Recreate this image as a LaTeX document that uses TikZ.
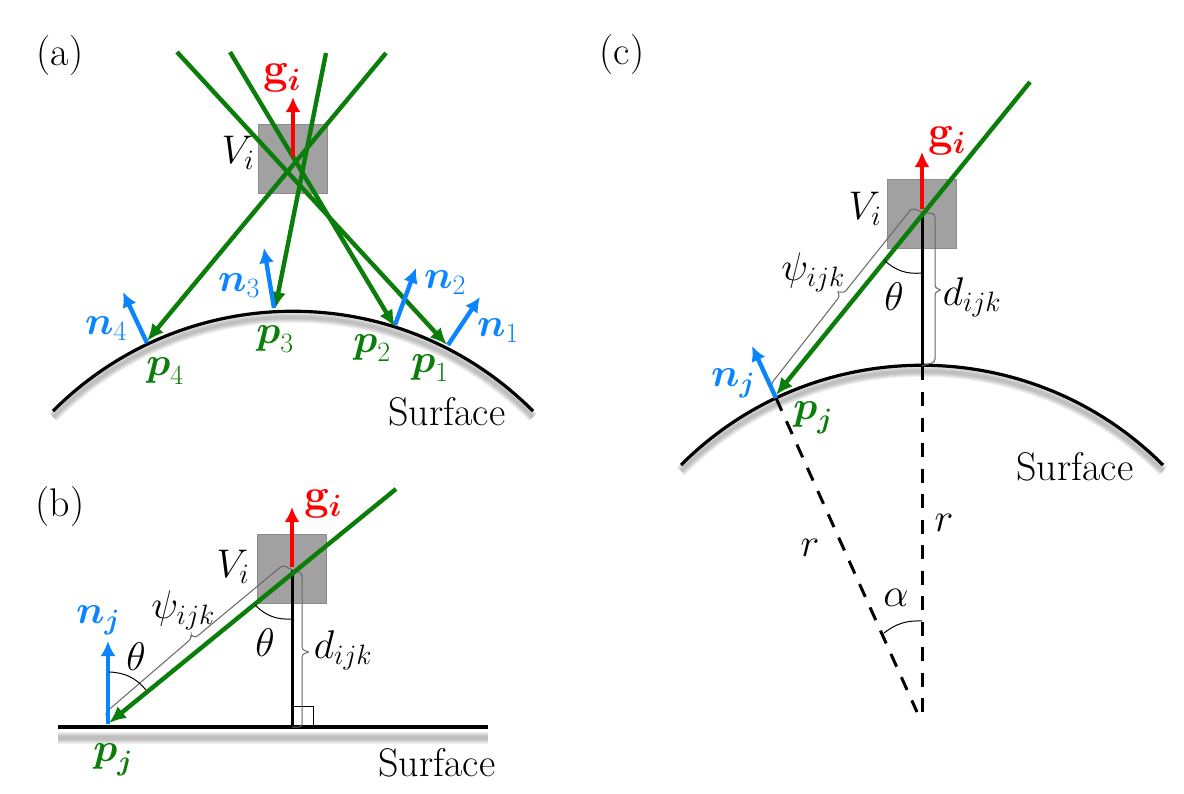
\RequirePackage{fix-cm}
\documentclass[tikz,border=0pt]{standalone}
\usepackage{amsmath}
\usetikzlibrary{arrows.meta}

\definecolor{raygreen}{RGB}{10,125,10}
\definecolor{normalblue}{RGB}{10,132,255}
\tikzset{
    greenline/.style={draw=raygreen,line width=4.4pt,-{Latex[length=17pt,width=15pt]}},
    normal/.style={draw=normalblue,line width=4.4pt,-{Latex[length=15pt,width=15pt]}},
    gradient/.style={draw=red,line width=4.4pt,-{Latex[length=15pt,width=15pt]}},
    voxel/.style={draw=black!45,fill=black!37,line width=1pt},
    surface/.style={line width=3.2pt},
    gap/.style={draw=black!60,line width=1pt,rounded corners=3pt},
    lab/.style={inner sep=0pt,font=\fontsize{40}{44}\selectfont},
    glab/.style={lab,text=raygreen},
    nlab/.style={lab,text=normalblue},
    rlab/.style={lab,text=red,font=\fontsize{44}{48}\selectfont}
}

\begin{document}
\begin{tikzpicture}[x=1pt,y=-1pt]
    \useasboundingbox (0,0) rectangle (1184,793);

    % (a)
    \node[lab] (labela) at (60,56) {(a)};
    \foreach \w in {11,9,7,5,3}
        \draw[black!60,opacity=.1,line width=\w pt,shift={(0,6)}] (53,411) .. controls (186,278) and (400,278) .. (533,411);
    \draw[surface] (53,411) .. controls (186,278) and (400,278) .. (533,411);
    \draw[voxel] (258,124) rectangle (327,193);
    \coordinate (centera) at (293,157);
    \coordinate (gtipa) at (293,97);
    \coordinate (r1) at (177,52);
    \coordinate (r2) at (230,52);
    \coordinate (r3) at (326,53);
    \coordinate (r4) at (386,53);
    \coordinate (p1) at (447,345);
    \coordinate (p2) at (395,327);
    \coordinate (p3) at (275,309);
    \coordinate (p4) at (147,341);
    \foreach \a/\b in {r1/p1,r2/p2,r3/p3,r4/p4}
        \draw[greenline] (\a) -- (\b);
    \draw[gradient] (centera) -- (gtipa);
    \draw[normal] (448,345) -- (480,297);
    \draw[normal] (395,325) -- (416,268);
    \draw[normal] (274,308) -- (264,248);
    \draw[normal] (147,343) -- (123,292);
    \node[rlab] (gia) at (282,78) {$\mathbf{g}_{\boldsymbol{i}}$};
    \node[lab] (via) at (238,153) {$V_i$};
    \node[nlab] (n1) at (498,331) {$\boldsymbol{n}_1$};
    \node[nlab] (n2) at (445,283) {$\boldsymbol{n}_2$};
    \node[nlab] (n3) at (239,286) {$\boldsymbol{n}_3$};
    \node[nlab] (n4) at (106,329) {$\boldsymbol{n}_4$};
    \node[glab] (lp1) at (430,368) {$\boldsymbol{p}_1$};
    \node[glab] (lp2) at (372,348) {$\boldsymbol{p}_2$};
    \node[glab] (lp3) at (275,339) {$\boldsymbol{p}_3$};
    \node[glab] (lp4) at (165,371) {$\boldsymbol{p}_4$};
    \node[lab] (surfa) at (447,412) {Surface};

    % (b)
    \node[lab] (labelb) at (60,507) {(b)};
    \foreach \w in {12,10,8,6,4}
        \draw[black!60,opacity=.1,line width=\w pt] (58,738) -- (488,738);
    \draw[surface] (58,727) -- (488,727);
    \draw[voxel] (257,534) rectangle (326,603);
    \draw[black,line width=1pt] (292,706) rectangle (313,727);
    \coordinate (centerb) at (292,570);
    \coordinate (gtipb) at (292,507);
    \coordinate (topb) at (396,489);
    \coordinate (pjb) at (109,723);
    \coordinate (footb) at (292,727);
    \draw[black,line width=3pt] (centerb) -- (footb);
    \draw[gap] (pjb) -- (105,713) -- (191,639) -- (191,634) -- (195,638) -- (283,565) -- (centerb);
    \draw[gap] (centerb) -- (302,573) -- (302,650) -- (310,652) -- (302,654) -- (302,727) -- (footb);
    \draw[gradient] (292,567) -- (gtipb);
    \draw[greenline] (topb) -- (pjb);
    \draw[normal] (108,724) -- (108,641);
    \draw[line width=1pt] (255,605) to[bend right=24] (292,619);
    \draw[line width=1pt] (109,672) to[bend left=24] (146,690);
    \node[rlab] (gib) at (323,504) {$\mathbf{g}_{\boldsymbol{i}}$};
    \node[lab] (vib) at (233,567) {$V_i$};
    \node[nlab] (njb) at (98,620) {$\boldsymbol{n}_{\boldsymbol{j}}$};
    \node[glab] (lpjb) at (113,760) {$\boldsymbol{p}_{\boldsymbol{j}}$};
    \node[lab] (psib) at (183,610) {$\psi_{ijk}$};
    \node[lab] (thetaa) at (136,657) {$\theta$};
    \node[lab] (thetab) at (265,643) {$\theta$};
    \node[lab] (db) at (343,650) {$d_{ijk}$};
    \node[lab] (surfb) at (437,763) {Surface};

    % (c)
    \node[lab] (labelc) at (622,55) {(c)};
    \foreach \w in {11,9,7,5,3}
        \draw[black!60,opacity=.1,line width=\w pt,shift={(0,6)}] (681,465) .. controls (814,332) and (1030,332) .. (1163,465);
    \draw[surface] (681,465) .. controls (814,332) and (1030,332) .. (1163,465);
    \draw[voxel] (887,179) rectangle (956,248);
    \coordinate (centerc) at (922,212);
    \coordinate (gtipc) at (922,152);
    \coordinate (topc) at (1030,82);
    \coordinate (pjc) at (776,395);
    \coordinate (topsurf) at (922,366);
    \coordinate (apex) at (922,723);
    \draw[black,line width=3pt] (centerc) -- (922,380);
    \draw[black,line width=3pt,dash pattern=on 14pt off 11.5pt] (922,392) -- (apex);
    \draw[black,line width=3pt,dash pattern=on 14pt off 11.5pt] (776,398) -- (917,712);
    \draw[gap] (pjc) -- (771,384) -- (840,296) -- (837,291) -- (844,293) -- (912,208) -- (centerc);
    \draw[gap] (centerc) -- (935,214) -- (935,288) -- (942,290) -- (935,292) -- (935,362) -- (topsurf);
    \draw[gradient] (922,209) -- (gtipc);
    \draw[greenline] (topc) -- (pjc);
    \draw[normal] (776,398) -- (752,346);
    \draw[line width=1pt] (884,260) to[bend right=24] (922,273);
    \draw[line width=1pt] (884,633) to[bend left=20] (922,621);
    \node[rlab] (gic) at (947,141) {$\mathbf{g}_{\boldsymbol{i}}$};
    \node[lab] (vic) at (865,209) {$V_i$};
    \node[nlab] (njc) at (733,383) {$\boldsymbol{n}_{\boldsymbol{j}}$};
    \node[glab] (lpjc) at (813,418) {$\boldsymbol{p}_{\boldsymbol{j}}$};
    \node[lab] (psic) at (813,272) {$\psi_{ijk}$};
    \node[lab] (thetac) at (894,297) {$\theta$};
    \node[lab] (dc) at (972,297) {$d_{ijk}$};
    \node[lab] (rl) at (810,548) {$r$};
    \node[lab] (rr) at (944,523) {$r$};
    \node[lab] (alpha) at (896,598) {$\alpha$};
    \node[lab] (surfc) at (1075,467) {Surface};
\end{tikzpicture}
\end{document}
